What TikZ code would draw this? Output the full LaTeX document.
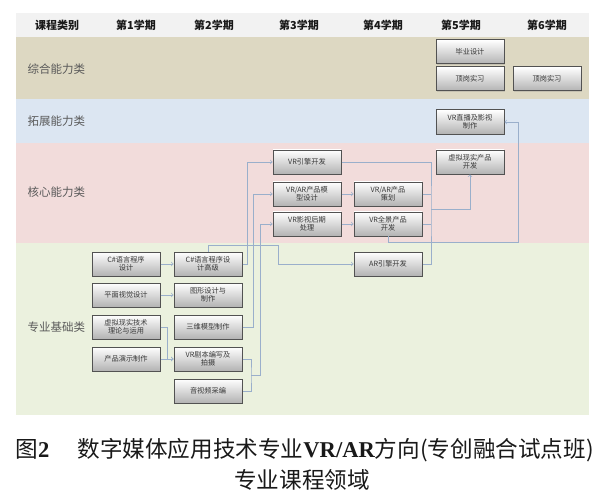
\documentclass[tikz,border=0pt]{standalone}
\usepackage{fontspec}
\setmainfont{Noto Sans CJK SC}
\newfontfamily\capserif{Liberation Serif}
\usepackage{xcolor}
\usetikzlibrary{shadows}
\definecolor{bandhead}{HTML}{F2F2F2}
\definecolor{bandtan}{HTML}{DDD8C2}
\definecolor{bandblue}{HTML}{DCE6F2}
\definecolor{bandpink}{HTML}{F2DCDB}
\definecolor{bandgreen}{HTML}{EBF1DE}
\definecolor{linkblue}{HTML}{9AAFCB}

\begin{document}
\begin{tikzpicture}[x=1bp,y=-1bp,
  course/.style={draw=black!68,line width=1pt,top color=white,bottom color=black!30,
    minimum width=68bp,minimum height=24bp,inner sep=1bp,align=center,
    font=\fontsize{7.2bp}{8.2bp}\selectfont,text=black!78,
    drop shadow={opacity=0.25,shadow xshift=0.8bp,shadow yshift=-0.8bp}},
  link/.style={draw=linkblue,line width=0.7pt},
  bandlabel/.style={anchor=west,text=black!65,font=\fontsize{11.5bp}{12bp}\selectfont},
  term/.style={text=black!90,font=\bfseries\fontsize{11bp}{12bp}\selectfont},
  caption/.style={text=black!90,font=\fontsize{22.6bp}{26bp}\selectfont}]
\useasboundingbox (0,0) rectangle (600,494);
% bands
\fill[bandhead] (16,13) rectangle (589,37);
\fill[bandtan] (16,37) rectangle (589,99);
\fill[bandblue] (16,99) rectangle (589,143);
\fill[bandpink] (16,143) rectangle (589,243);
\fill[bandgreen] (16,243) rectangle (589,415);
% header
\node[term] (hcat) at (57,25) {课程类别};
\node[term] (h1) at (136,25) {第1学期};
\node[term] (h2) at (214,25) {第2学期};
\node[term] (h3) at (299,25) {第3学期};
\node[term] (h4) at (383,25) {第4学期};
\node[term] (h5) at (461,25) {第5学期};
\node[term] (h6) at (547,25) {第6学期};
\node[bandlabel] (zonghe) at (24,69) {综合能力类};
\node[bandlabel] (tuozhan) at (24,121) {拓展能力类};
\node[bandlabel] (hexin) at (24,192) {核心能力类};
\node[bandlabel] (jichu) at (24,327) {专业基础类};
% semester 5 and 6
\node[course] (bysj) at (470,52) {毕业设计};
\node[course] (dgsx) at (470,79) {顶岗实习};
\node[course] (dgsxb) at (547,79) {顶岗实习};
\node[course] (zbys) at (470,122) {VR直播及影视\\制作};
\node[course] (xskf) at (470,162) {虚拟现实产品\\开发};
% semester 3 and 4
\node[course] (vryq) at (307,162) {VR引擎开发};
\node[course] (mxsj) at (307,194) {VR/AR产品模\\型设计};
\node[course] (yshq) at (307,224) {VR影视后期\\处理};
\node[course] (cpch) at (388,194) {VR/AR产品\\策划};
\node[course] (qjkf) at (388,224) {VR全景产品\\开发};
\node[course] (aryq) at (388,264) {AR引擎开发};
% semester 1 and 2
\node[course] (csyy) at (126,264) {C\#语言程序\\设计};
\node[course] (csgj) at (208,264) {C\#语言程序设\\计高级};
\node[course] (pmsj) at (126,295) {平面视觉设计};
\node[course] (txsj) at (208,295) {图形设计与\\制作};
\node[course] (xnll) at (126,327) {虚拟现实技术\\理论与运用};
\node[course] (swmx) at (208,327) {三维模型制作};
\node[course] (cpys) at (126,359) {产品演示制作};
\node[course] (jbps) at (208,359) {VR剧本编写及\\拍摄};
\node[course] (ysp) at (208,391) {音视频采编};
% connectors
\coordinate (jbmid) at (251,375);
\coordinate (arturn) at (278,245);
\coordinate (core) at (431,209);
\coordinate (zbturn) at (518,242);
\draw[link,->] (csyy) -- (csgj);
\draw[link,->] (pmsj) -- (txsj);
\draw[link,->] (xnll.east) -- ++(7,0) |- (jbps.west);
\draw[link,->] (cpys) -- (jbps);
\draw[link] (jbps.east) -| (jbmid) |- (ysp.east);
\draw[link,->] (jbmid) -- ++(9,0) |- (yshq.west);
\draw[link,->] (swmx.east) -- ++(11,0) |- (mxsj.west);
\draw[link,->] (csgj.east) -- ++(5,0) |- (vryq.west);
\draw[link,->] (csgj.north) |- (arturn) |- (aryq.west);
\draw[link,->] (mxsj) -- (cpch);
\draw[link,->] (yshq) -- (qjkf);
\draw[link] (vryq.east) -| (core) |- (aryq.east);
\draw[link] (cpch.east) -- (cpch.east -| core);
\draw[link] (qjkf.east) -- (qjkf.east -| core);
\draw[link,->] (core) -| (xskf.south);
\draw[link,->] (qjkf.south) |- (zbturn) |- (zbys.east);
% caption
\node[caption,anchor=west] (cap) at (12,450) {图{\capserif\bfseries 2}\hspace{28bp}数字媒体应用技术专业{\capserif\bfseries VR/AR}方向(专创融合试点班)};
\node[caption] (capb) at (302,480) {专业课程领域};
\end{tikzpicture}
\end{document}
